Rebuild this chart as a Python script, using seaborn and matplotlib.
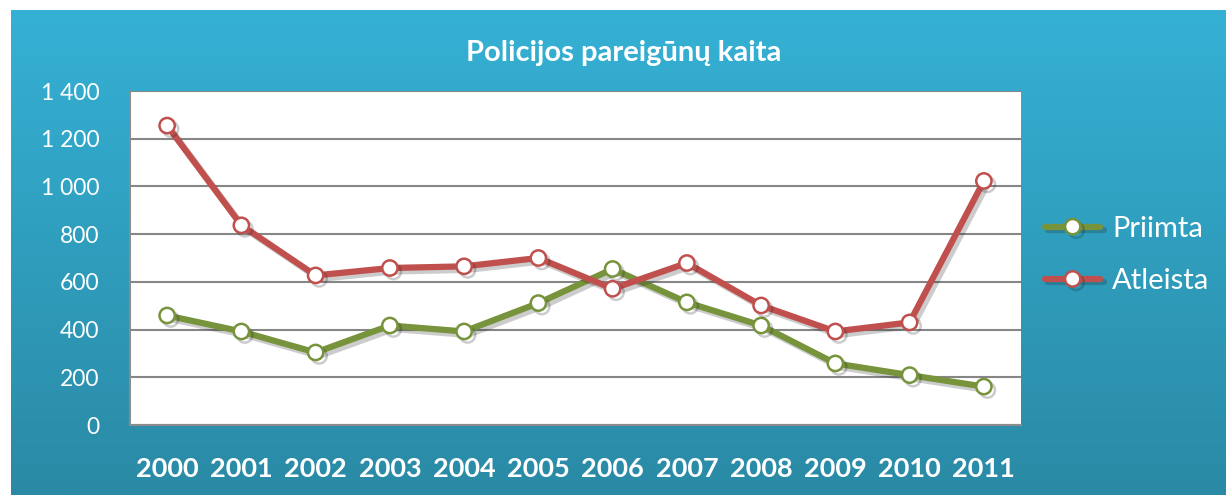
import numpy as np
import pandas as pd
import matplotlib
matplotlib.use("Agg")
import matplotlib.pyplot as plt
import matplotlib.patheffects as pe
from matplotlib.colors import LinearSegmentedColormap
import seaborn as sns

years = ["2000", "2001", "2002", "2003", "2004", "2005",
         "2006", "2007", "2008", "2009", "2010", "2011"]
priimta = [459, 392, 304, 417, 392, 511, 654, 514, 417, 258, 209, 161]
atleista = [1255, 837, 627, 658, 665, 700, 571, 679, 501, 392, 430, 1023]
series_names = ["Priimta", "Atleista"]
series_colors = {"Priimta": "#77933C", "Atleista": "#C0504D"}
title = "Policijos pareigūnų kaita"

sns.set_theme(style="white")
plt.rcParams["font.family"] = ["Lato", "DejaVu Sans"]

df = pd.DataFrame({
    "idx": list(range(len(years))) * 2,
    "value": priimta + atleista,
    "series": ["Priimta"] * len(years) + ["Atleista"] * len(years),
})

fig = plt.figure(figsize=(12.26, 4.95), dpi=100)
fig.patch.set_facecolor("white")

# gradient blue frame behind everything
bg = fig.add_axes([11 / 1226, 0, 1 - 11 / 1226, 485 / 495])
grad = LinearSegmentedColormap.from_list("bg", ["#2A8AA5", "#35B1D5"])
bg.imshow(np.linspace(0, 1, 256).reshape(-1, 1), aspect="auto", cmap=grad,
          origin="lower", extent=[0, 1, 0, 1])
bg.set_axis_off()

ax = fig.add_axes([130 / 1226, 70 / 495, 891 / 1226, 334 / 495])
ax.set_facecolor("white")

for name in series_names:
    sub = df[df["series"] == name]
    sns.lineplot(data=sub, x="idx", y="value", ax=ax, color=series_colors[name],
                 linewidth=4.5, marker="o", markersize=11, markerfacecolor="white",
                 markeredgecolor=series_colors[name], markeredgewidth=1.8,
                 label=name, zorder=3,
                 path_effects=[pe.SimpleLineShadow(offset=(2.5, -2.5), alpha=0.22),
                               pe.Normal()])

ax.set_xlim(-0.5, len(years) - 0.5)
ax.set_ylim(0, 1400)
yticks = list(range(0, 1401, 200))
ax.set_yticks(yticks)
ax.set_yticklabels([f"{v:,}".replace(",", " ") for v in yticks],
                   color="white", fontsize=16.5)
ax.set_xticks(range(len(years)))
ax.set_xticklabels(years, color="white", fontsize=19.5, fontweight="bold")
ax.set_xticks(np.arange(-0.5, len(years)), minor=True)
ax.tick_params(axis="x", which="major", length=0, pad=23)
ax.tick_params(axis="x", which="minor", length=9, color="#8C8C8C", width=1.2)
ax.tick_params(axis="y", length=8, color="#8C8C8C", width=1.2, pad=14)
ax.yaxis.grid(True, color="#868686", linewidth=1.5)
ax.set_axisbelow(True)
for s in ["top", "right"]:
    ax.spines[s].set_visible(False)
for s in ["left", "bottom"]:
    ax.spines[s].set_color("#8C8C8C")
    ax.spines[s].set_linewidth(1.5)
ax.set_xlabel("")
ax.set_ylabel("")

fig.text(624 / 1226, 1 - 53 / 495, title, ha="center", va="center",
         color="white", fontsize=21, fontweight="bold")

handles, labels = ax.get_legend_handles_labels()
ax.get_legend().remove()
leg = fig.legend(handles, labels, loc="center left",
                 bbox_to_anchor=(1045 / 1226, 1 - 255 / 495), frameon=False,
                 fontsize=21, handlelength=1.9, labelspacing=0.9,
                 handletextpad=0.4, borderpad=0, borderaxespad=0)
for t in leg.get_texts():
    t.set_color("white")

fig.savefig("out.png", dpi=100)
